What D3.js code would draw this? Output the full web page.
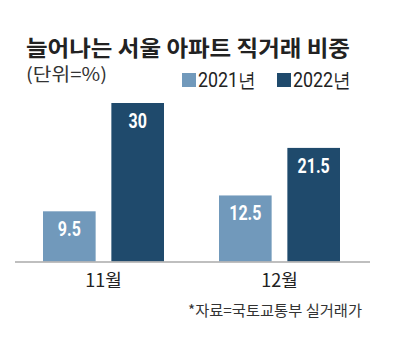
<!DOCTYPE html>
<html><head><meta charset="utf-8">
<script src="https://cdn.jsdelivr.net/npm/d3@7"></script>
<style>body{margin:0;background:#fff}svg{display:block}</style>
</head><body>
<script>
const categories = ["11월", "12월"];
const seriesNames = ["2021년", "2022년"];
const values2021 = [9.5, 12.5];
const values2022 = [30, 21.5];
const valueLabels2021 = ["9.5", "12.5"];
const valueLabels2022 = ["30", "21.5"];
const colors = ["#7199bb", "#1f4a6c"];

const W = 400, H = 345;
const svg = d3.select("body").append("svg").attr("width", W).attr("height", H);
const kr = "'Noto Sans CJK KR', 'Noto Sans', sans-serif";
const narrow = "'Liberation Sans Narrow', 'Roboto', sans-serif";

svg.append("text").attr("x", 26).attr("y", 56)
  .attr("font-family", kr).attr("font-weight", 700).attr("font-size", 22)
  .attr("fill", "#222").attr("textLength", 324).attr("lengthAdjust", "spacingAndGlyphs")
  .text("늘어나는 서울 아파트 직거래 비중");
svg.append("text").attr("x", 26).attr("y", 81)
  .attr("font-family", kr).attr("font-size", 18).attr("fill", "#333")
  .attr("textLength", 81).attr("lengthAdjust", "spacingAndGlyphs")
  .text("(단위=%)");

// legend
const legX = [182, 277];
seriesNames.forEach((n, i) => {
  svg.append("rect").attr("x", legX[i]).attr("y", 73).attr("width", 14).attr("height", 14).attr("fill", colors[i]);
  svg.append("text").attr("x", legX[i] + 16).attr("y", 87)
    .attr("font-family", narrow).attr("font-size", 20).attr("fill", "#222")
    .attr("textLength", 58).attr("lengthAdjust", "spacingAndGlyphs").text(n);
});

const baseY = 261.5;
const y = d3.scaleLinear().domain([0, 30]).range([baseY, 103]);
const x0 = d3.scaleBand().domain(categories).range([15, 367]).paddingInner(0).paddingOuter(0);
const x1 = d3.scaleBand().domain(seriesNames).range([28, 149]).paddingInner(0.23).paddingOuter(0);

const rows = categories.map((c, i) => ({c, vals: [
  {s: seriesNames[0], v: values2021[i], l: valueLabels2021[i], col: colors[0]},
  {s: seriesNames[1], v: values2022[i], l: valueLabels2022[i], col: colors[1]}]}));

const g = svg.selectAll("g.grp").data(rows).join("g").attr("class", "grp")
  .attr("transform", d => `translate(${x0(d.c)},0)`);
g.selectAll("rect").data(d => d.vals).join("rect")
  .attr("x", d => x1(d.s)).attr("width", x1.bandwidth())
  .attr("y", d => y(d.v)).attr("height", d => baseY - y(d.v)).attr("fill", d => d.col);
const sx = 0.8;
g.selectAll("text.val").data(d => d.vals).join("text").attr("class", "val")
  .attr("transform", d => `translate(${x1(d.s) + x1.bandwidth() / 2},${y(d.v) + 25}) scale(${sx},1)`)
  .attr("text-anchor", "middle").attr("font-family", narrow).attr("font-weight", 700)
  .attr("font-size", 20).attr("fill", "#fff").text(d => d.l);

// axis line
svg.append("line").attr("x1", 15).attr("x2", 370).attr("y1", baseY + 0.5).attr("y2", baseY + 0.5)
  .attr("stroke", "#aaa").attr("stroke-width", 1.5);

const xAxis = d3.axisBottom(x0).tickSize(0).tickPadding(0);
const ax = svg.append("g").attr("transform", `translate(0,${baseY})`).call(xAxis);
ax.select(".domain").remove();
ax.selectAll(".tick").attr("transform", d => `translate(${x0(d) + 28 + 60.5},0)`);
ax.selectAll("text").attr("y", 25).attr("dy", 0).attr("font-family", kr)
  .attr("font-size", 18).attr("fill", "#222");

svg.append("text").attr("x", 362).attr("y", 316).attr("text-anchor", "end")
  .attr("font-family", kr).attr("font-size", 15).attr("fill", "#333")
  .attr("textLength", 174).attr("lengthAdjust", "spacingAndGlyphs")
  .text("*자료=국토교통부 실거래가");
</script>
</body></html>
